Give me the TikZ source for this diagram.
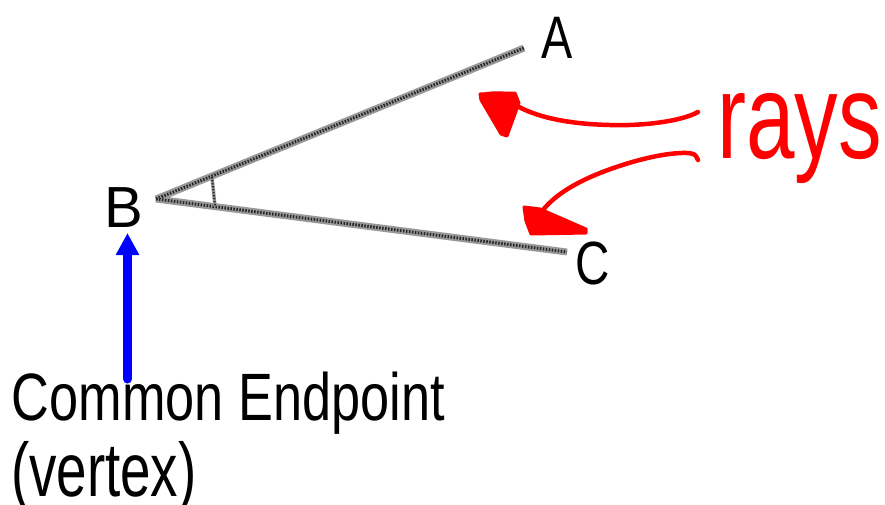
\documentclass[tikz,border=0pt]{standalone}
\usepackage{fontspec}
\setmainfont{Liberation Sans}
\newfontfamily\nar[FakeStretch=0.78]{Liberation Sans}
\newfontfamily\narr[FakeStretch=0.72]{Liberation Sans}
\usetikzlibrary{arrows.meta}
\begin{document}
\begin{tikzpicture}[x=1pt,y=-1pt,
  lbl/.style={anchor=base west,inner sep=0pt,outer sep=0pt},
  rayline/.style={line width=7pt,color=black!40},
  raytex/.style={line width=3pt,color=black!85,dash pattern=on 1.5pt off 1.5pt},
  redline/.style={red,line width=4.5pt,line cap=round,line join=round},
  redhead/.style={red,fill=red,line width=3pt,line join=round},
  bluearrow/.style={blue,line width=9pt,line cap=round,-{Triangle[length=22pt,width=22pt]}}]
\useasboundingbox (0,0) rectangle (885,504);
% rays
\coordinate (vB) at (156,199);
\coordinate (eA) at (524,48);
\coordinate (eC) at (567,252);
\draw[rayline] (vB) -- (eA);
\draw[rayline] (vB) -- (eC);
\draw[raytex] (vB) -- (eA);
\draw[raytex] (vB) -- (eC);
% angle mark
\coordinate (t1) at (212,177);
\coordinate (t2) at (215,206);
\draw[line width=3.5pt,black!40] (t1) -- (t2);
\draw[line width=2pt,black!85,dash pattern=on 1.5pt off 1.5pt] (t1) -- (t2);
% labels
\node[lbl] (A) at (541,58) {\fontsize{60}{60}\nar A};
\node[lbl] (B) at (104,227) {\fontsize{58}{58}\selectfont B};
\node[lbl] (C) at (575,284) {\fontsize{61}{61}\nar C};
\node[lbl,text=red] (rays) at (717,158) {\fontsize{121}{121}\narr rays};
\node[lbl] (ce) at (12,420) {\fontsize{67}{67}\nar Common Endpoint};
\node[lbl] (vx) at (11,496) {\fontsize{76}{76}\narr (vertex)};
% blue arrow
\coordinate (bs) at (127.5,379);
\coordinate (bt) at (127.5,233);
\draw[bluearrow] (bs) -- (bt);
% upper red arrow
\coordinate (r1s) at (698,112);
\coordinate (r1e) at (519,107);
\draw[redline] (r1s) .. controls (680,122) and (640,126) .. (610,125)
  .. controls (570,124) and (540,118) .. (r1e);
\filldraw[redhead] (480,94) -- (515,93) -- (519,103) -- (507,136) -- (501,134) -- (481,100) -- cycle;
\draw[red,line width=1.5pt] (497,96) ellipse (17pt and 4pt);
% lower red arrow
\coordinate (r2s) at (698,160);
\coordinate (r2e) at (543,210);
\draw[redline] (r2s) .. controls (695,154) .. (688,153)
  .. controls (660,152) and (620,165) .. (600,173)
  .. controls (575,183) and (555,195) .. (r2e);
\filldraw[redhead] (524,207) -- (540,209) -- (586,229) -- (586,233) -- (531,234) -- (526,221) -- cycle;
\end{tikzpicture}
\end{document}
